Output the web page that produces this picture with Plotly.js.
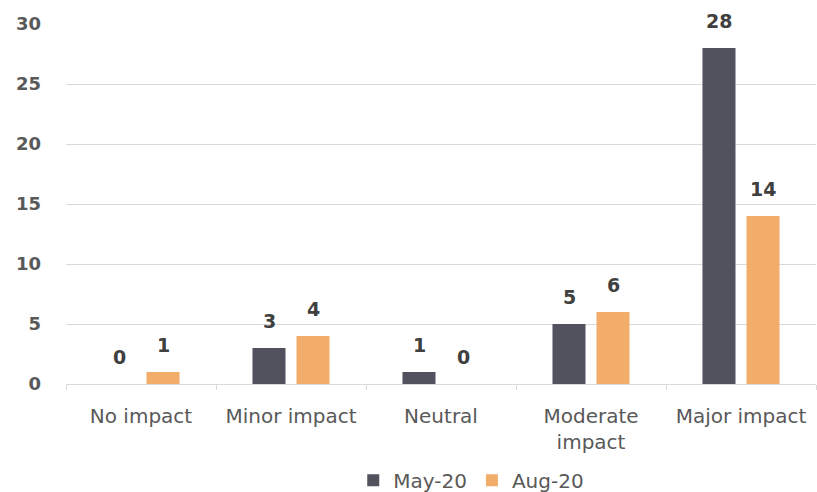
<!DOCTYPE html>
<html>
<head>
<meta charset="utf-8">
<script src="https://cdn.plot.ly/plotly-3.0.1.min.js"></script>
<style>html,body{margin:0;padding:0;background:#fff;}#chart{width:817px;height:492px;}</style>
</head>
<body>
<div id="chart"></div>
<script>
const categories = ["No impact", "Minor impact", "Neutral", "Moderate<br>impact", "Major impact"];
const seriesNames = ["May-20", "Aug-20"];
const may20 = [0, 3, 1, 5, 28];
const aug20 = [1, 4, 0, 6, 14];
const yTicks = [0, 5, 10, 15, 20, 25, 30];

const colors = ["#52525e", "#f2ad6b"];
const FONT = "DejaVu Sans, sans-serif";

const data = [
  {type: "bar", name: seriesNames[0], x: categories, y: may20, marker: {color: colors[0]}, hoverinfo: "skip"},
  {type: "bar", name: seriesNames[1], x: categories, y: aug20, marker: {color: colors[1]}, hoverinfo: "skip"}
];

const annotations = [];
[may20, aug20].forEach((vals, si) => {
  vals.forEach((v, i) => {
    annotations.push({
      x: categories[i], y: v, xref: "x", yref: "y",
      text: "<b>" + v + "</b>", showarrow: false,
      xanchor: "center", yanchor: "bottom",
      xshift: si === 0 ? -22 : 22, yshift: 14,
      font: {family: FONT, size: 19, color: "#404040"}
    });
  });
});

const layout = {
  width: 817, height: 492,
  margin: {l: 66, r: 1, t: 24, b: 108},
  paper_bgcolor: "#fff", plot_bgcolor: "#fff",
  barmode: "group", bargap: 0.413, bargroupgap: 0.25,
  font: {family: FONT, color: "#595959"},
  annotations: annotations,
  xaxis: {
    type: "category", tickson: "boundaries", ticks: "outside", ticklen: 5,
    tickcolor: "#d9d9d9", showline: true, linecolor: "#d9d9d9", linewidth: 1,
    showgrid: false, tickfont: {family: FONT, size: 20, color: "#595959"},
    ticklabelstandoff: 14, automargin: false, fixedrange: true
  },
  yaxis: {
    range: [0, 30], tickvals: yTicks, ticktext: yTicks.map(v => "<b>" + v + "</b>"),
    showgrid: true, gridcolor: "#d9d9d9", gridwidth: 1, zeroline: false,
    ticklabelstandoff: 24, automargin: false,
    tickfont: {family: FONT, size: 18, color: "#595959"}, fixedrange: true
  },
  showlegend: true,
  legend: {
    orientation: "h", x: 0.383, xanchor: "left",
    yref: "container", y: 0.024, yanchor: "middle",
    font: {family: FONT, size: 20, color: "#595959"}, itemwidth: 30
  }
};

Plotly.newPlot("chart", data, layout, {displayModeBar: false, staticPlot: true});
</script>
</body>
</html>
